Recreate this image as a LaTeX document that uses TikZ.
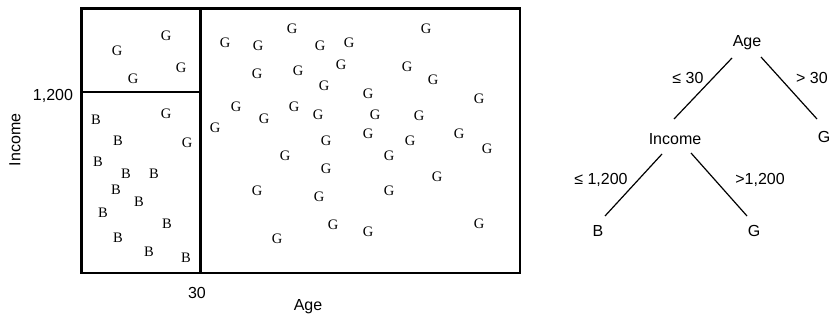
\documentclass[tikz,border=0pt]{standalone}
\usepackage{fontspec}
\setmainfont{Liberation Sans}
\newfontfamily\serifletters{Liberation Serif}
\begin{document}
\begin{tikzpicture}[x=1pt,y=-1pt,
  lab/.style={font=\fontsize{16}{18}\selectfont, inner sep=0pt},
  pt/.style={font=\serifletters\fontsize{14.5}{16}\selectfont, inner sep=0pt},
  frame/.style={line width=2.4pt},
  branch/.style={line width=1.2pt}]
\useasboundingbox (0,0) rectangle (835,324);
% partition plot
\coordinate (tl) at (81.5,8.5);
\coordinate (br) at (520,273);
\draw[frame] (tl) rectangle (br);
\coordinate (vt) at (200.5,8.5);
\coordinate (vb) at (200.5,273);
\draw[frame] (vt) -- (vb);
\coordinate (hl) at (81.5,92);
\coordinate (hr) at (200.5,92);
\draw[frame] (hl) -- (hr);
\node[lab] (ylab) at (53,96) {1,200};
\node[lab,rotate=90] (yax) at (15,140) {Income};
\node[lab] (xlab) at (197,293) {30};
\node[lab] (xax) at (308,307) {Age};
% B points
\foreach \x/\y [count=\i] in {96/120,118/141,98/162,126/174,154/174,116/190,139/202,103/213,167/224,118/238,149/252,186/258}
  \node[pt] (b\i) at (\x,\y) {B};
% G points
\foreach \x/\y [count=\i] in {117/51,166/36,181/68,133/79,166/114,187/143,
  292/29,426/29,225/43,258/46,320/46,349/43,257/74,298/71,341/65,407/67,433/80,324/86,
  368/94,479/99,236/107,264/119,294/107,318/115,375/115,419/116,215/128,326/141,
  368/134,410/141,459/134,487/149,285/156,389/156,326/169,437/177,257/191,319/197,
  389/191,333/225,368/232,479/224,277/239}
  \node[pt] (g\i) at (\x,\y) {G};
% tree
\node[lab] (age) at (747,43) {Age};
\node[lab] (inc) at (675,139) {Income};
\node[lab] (gr) at (824,137) {G};
\node[lab] (lb) at (598,231) {B};
\node[lab] (lg) at (754,231) {G};
\draw[branch] ([shift={(-15,15)}]age.center) -- ([shift={(-1,-20)}]inc.center);
\draw[branch] ([shift={(14,14)}]age.center) -- ([shift={(-7,-18)}]gr.center);
\draw[branch] ([shift={(-13,15)}]inc.center) -- ([shift={(7,-15)}]lb.center);
\draw[branch] ([shift={(16,14)}]inc.center) -- ([shift={(-7,-15)}]lg.center);
\node[lab] (l1) at (688,78) {≤ 30};
\node[lab] (l2) at (812,78) {> 30};
\node[lab] (l3) at (601,180) {≤ 1,200};
\node[lab] (l4) at (760,180) {>1,200};
\end{tikzpicture}
\end{document}
